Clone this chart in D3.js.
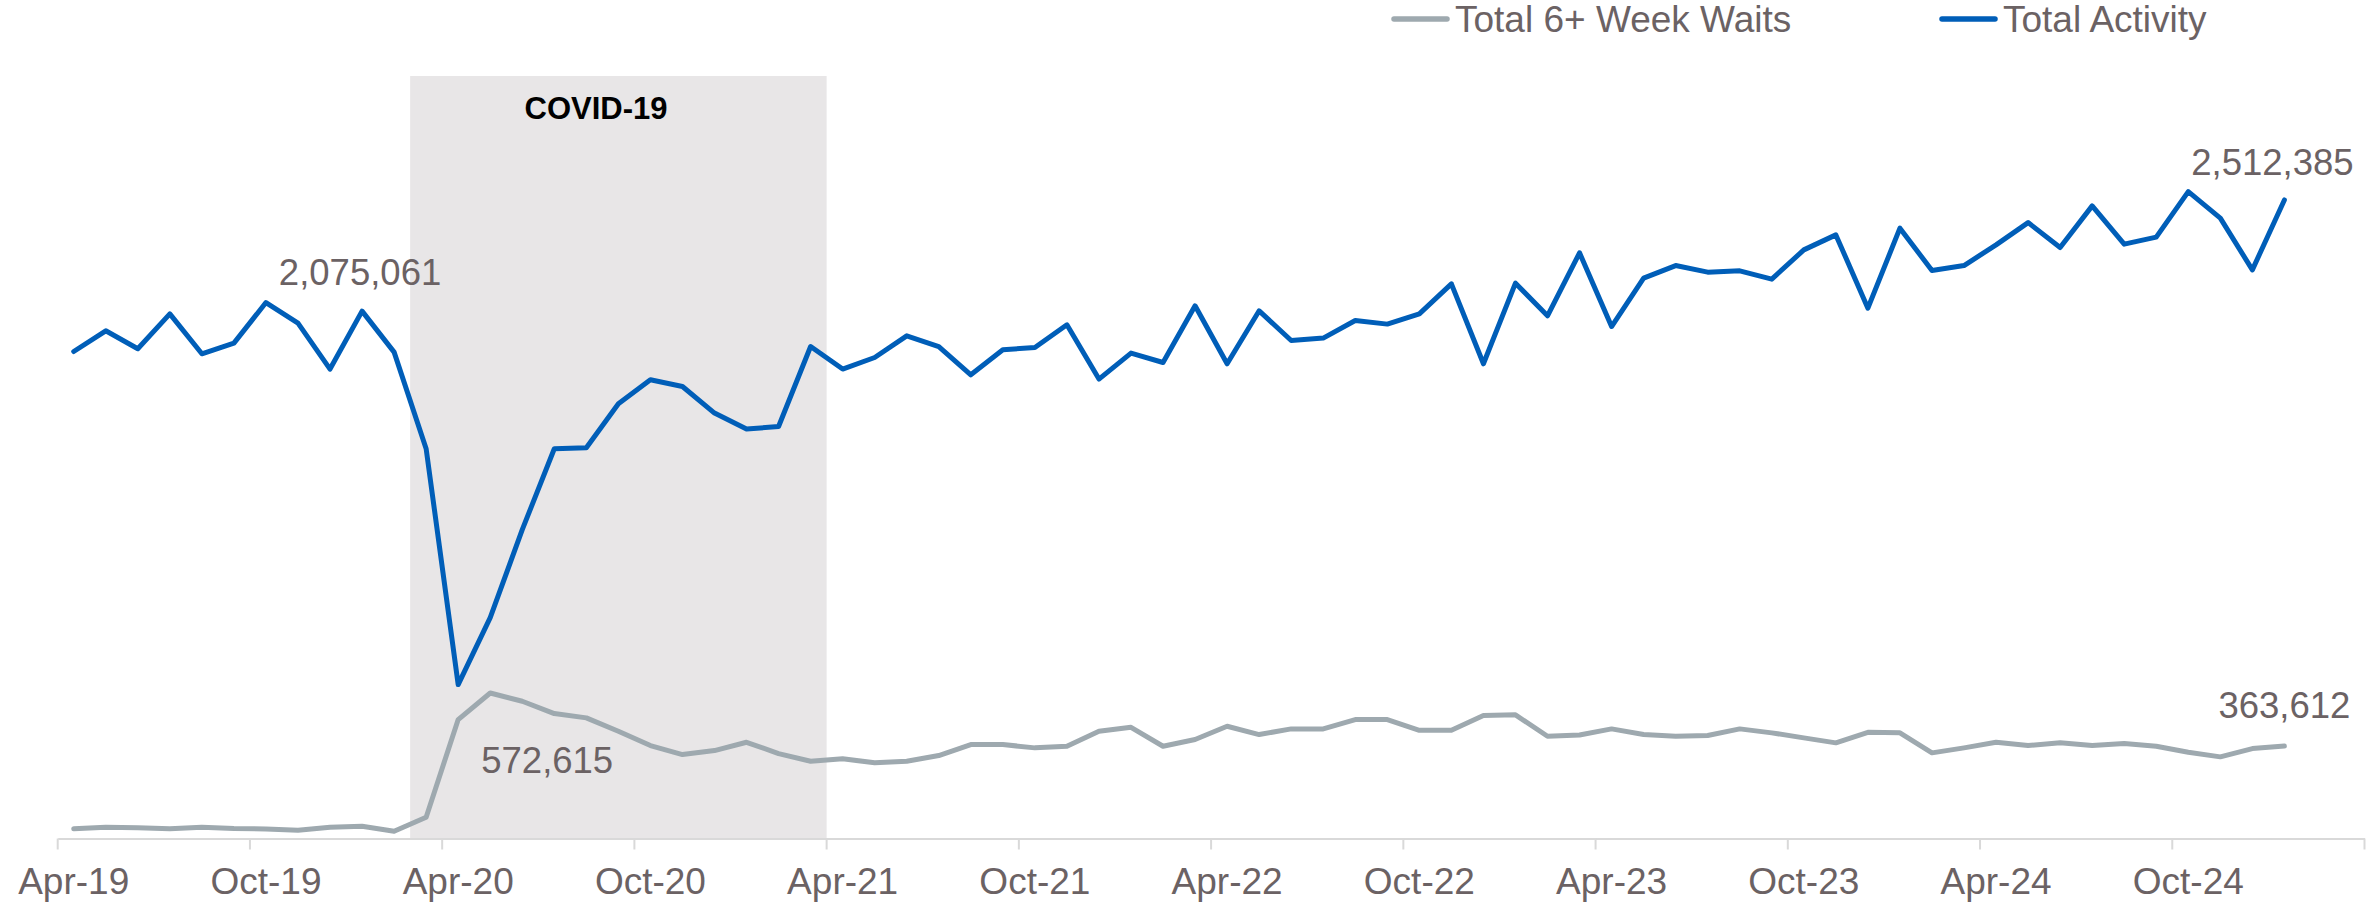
<!DOCTYPE html>
<html>
<head>
<meta charset="utf-8">
<script src="https://cdn.jsdelivr.net/npm/d3@7"></script>
<style>
  body { margin: 0; background: #fff; }
  text { font-family: Arial, "Liberation Sans", sans-serif; }
</style>
</head>
<body>
<div id="chart"></div>
<script>
const width = 2369, height = 905;

// monthly categories Apr-19 .. Mar-25 (data runs to Jan-25)
const months = d3.timeMonth.range(new Date(2019, 3, 1), new Date(2025, 3, 1));
const tickLabels = ["Apr-19", "Oct-19", "Apr-20", "Oct-20", "Apr-21", "Oct-21",
                    "Apr-22", "Oct-22", "Apr-23", "Oct-23", "Apr-24", "Oct-24"];

// Total Activity
const totalActivity = [
  1916000, 1997500, 1926700, 2064300, 1907000, 1949100, 2108700, 2027700, 1846900, 2075061,
  1913700, 1533500, 605500, 869000, 1215000, 1533500, 1537400, 1710400, 1804800, 1778400,
  1673800, 1610900, 1621200, 1935700, 1846900, 1892500, 1977800, 1935700, 1824400, 1922700,
  1931800, 2021000, 1807500, 1909800, 1872800, 2095800, 1867700, 2076100, 1959300, 1968800,
  2037900, 2023800, 2064300, 2182300, 1867700, 2185000, 2056400, 2304200, 2014400, 2204700,
  2254200, 2228300, 2233400, 2200700, 2315900, 2374900, 2086700, 2401300, 2234600, 2254200,
  2335600, 2423300, 2325000, 2489000, 2338400, 2365900, 2545200, 2440600, 2237300, 2512385
];

// Total 6+ Week Waits
const sixWeekWaits = [
  38100, 44400, 42100, 38100, 44400, 39300, 37400, 32600, 44400, 48400,
  28700, 83800, 467900, 572615, 539900, 491500, 474600, 421900, 365700, 330300,
  346000, 378600, 334200, 303900, 313400, 297700, 303900, 326400, 369600, 369600,
  356600, 362900, 421900, 437600, 362900, 389300, 441600, 408900, 431300, 431300,
  467900, 467900, 425800, 425800, 483600, 486400, 402200, 407000, 431300, 408900,
  402200, 405000, 431300, 415600, 396000, 376300, 418000, 415600, 337000, 356600,
  378600, 365700, 376300, 365700, 373500, 362900, 339300, 321200, 353900, 363612
];

const covidStart = new Date(2020, 2, 1), covidEnd = new Date(2021, 3, 1);

const textColor = "#6b6264";
const blue = "#005eb8", grey = "#9ea9af";

const svg = d3.select("#chart").append("svg")
  .attr("width", width).attr("height", height);

const x = d3.scaleBand().domain(months).range([57.7, 2364.5]).padding(0);
const y = d3.scaleLinear().domain([0, 3000000]).range([838.5, 76]);
const cx = i => x(months[i]) + x.bandwidth() / 2;

// COVID shading
const covidX0 = x(months.find(m => +m === +covidStart));
const covidX1 = x(months.find(m => +m === +covidEnd));
svg.append("rect")
  .attr("x", covidX0).attr("y", y(3000000))
  .attr("width", covidX1 - covidX0).attr("height", y(0) - y(3000000))
  .attr("fill", "#e8e6e7");
svg.append("text")
  .attr("x", 596).attr("y", 119)
  .attr("text-anchor", "middle")
  .attr("font-size", 31).attr("font-weight", "bold").attr("fill", "#000")
  .text("COVID-19");

// x axis: labels at band centres, tick marks at band edges
const fmt = d3.timeFormat("%b-%y");
const axis = svg.append("g").attr("transform", `translate(0,${y(0)})`)
  .call(d3.axisBottom(x)
    .tickValues(months.filter(m => tickLabels.includes(fmt(m))))
    .tickFormat(fmt).tickSize(0));
axis.select(".domain").attr("stroke", "#d9d9d9").attr("stroke-width", 2);
axis.selectAll("text").attr("font-size", 37).attr("fill", textColor)
  .attr("font-family", "Arial, 'Liberation Sans', sans-serif")
  .attr("dy", 0).attr("y", 55.5);
const edges = months.filter((m, i) => i % 6 === 0).map(m => x(m)).concat([x.range()[1]]);
axis.selectAll(".edge").data(edges).enter().append("line")
  .attr("x1", d => d).attr("x2", d => d).attr("y1", 0).attr("y2", 11)
  .attr("stroke", "#d9d9d9").attr("stroke-width", 2);

const line = d3.line().x((d, i) => cx(i)).y(d => y(d));

svg.append("path").datum(sixWeekWaits)
  .attr("d", line).attr("fill", "none").attr("stroke", grey)
  .attr("stroke-width", 5).attr("stroke-linejoin", "round").attr("stroke-linecap", "round");
svg.append("path").datum(totalActivity)
  .attr("d", line).attr("fill", "none").attr("stroke", blue)
  .attr("stroke-width", 5).attr("stroke-linejoin", "round").attr("stroke-linecap", "round");

// data labels
const labels = [
  { series: totalActivity, i: 9, dx: -2, dy: -26 },
  { series: totalActivity, i: 69, dx: -12, dy: -25 },
  { series: sixWeekWaits, i: 13, dx: 57, dy: 80 },
  { series: sixWeekWaits, i: 69, dx: 0, dy: -28 }
];
svg.selectAll(".dlabel").data(labels).enter().append("text")
  .attr("x", d => cx(d.i) + d.dx)
  .attr("y", d => y(d.series[d.i]) + d.dy)
  .attr("text-anchor", "middle").attr("font-size", 36.5).attr("fill", textColor)
  .text(d => d3.format(",")(d.series[d.i]));

// legend
const legend = [
  { name: "Total 6+ Week Waits", color: grey, x: 1394 },
  { name: "Total Activity", color: blue, x: 1942 }
];
const lg = svg.selectAll(".legend").data(legend).enter().append("g")
  .attr("transform", d => `translate(${d.x},19)`);
lg.append("line").attr("x1", 0).attr("x2", 53)
  .attr("stroke", d => d.color).attr("stroke-width", 5.5).attr("stroke-linecap", "round");
lg.append("text").attr("x", 61).attr("y", 13)
  .attr("font-size", 37).attr("fill", textColor).text(d => d.name);
</script>
</body>
</html>
